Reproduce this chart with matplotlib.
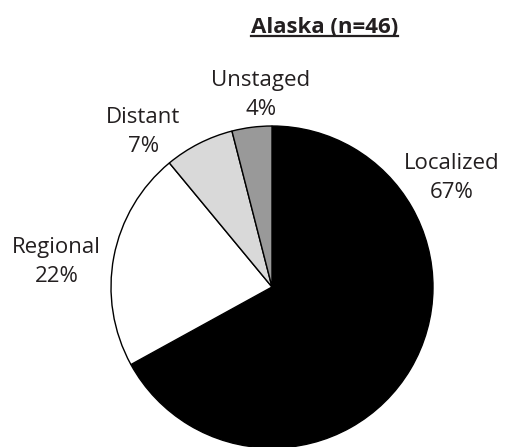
import matplotlib
matplotlib.use("Agg")
import matplotlib.pyplot as plt
from matplotlib.lines import Line2D

plt.rcParams['font.family'] = ['Open Sans', 'DejaVu Sans']

stages = ['Localized', 'Regional', 'Distant', 'Unstaged']
percents = [67, 22, 7, 4]
colors = ['#000000', '#ffffff', '#d9d9d9', '#999999']
# label anchor points, in pie-radius units
label_xy = [(1.118, 0.677), (-1.339, 0.155), (-0.798, 0.963), (-0.068, 1.193)]

W, H = 506, 447
cx, cy, r = 272, 287, 161

fig = plt.figure(figsize=(W / 100, H / 100), dpi=100)
ax = fig.add_axes([0, 0, 1, 1])
ax.axis('off')

ax.pie(percents, colors=colors, startangle=90, counterclock=False,
       radius=1.0, wedgeprops=dict(edgecolor='black', linewidth=1.0))
ax.set_xlim(-cx / r, (W - cx) / r)
ax.set_ylim(-(H - cy) / r, cy / r)
ax.set_aspect('equal')

for name, pct, (x, y) in zip(stages, percents, label_xy):
    ax.text(x, y, f"{name}\n{pct}%", ha='center', va='center',
            fontsize=16, color='#231f20', linespacing=1.45)

title_y = 1.578
title = ax.text(0.783, title_y, "Alaska (n=46)", ha='right', va='baseline',
                fontsize=16, fontweight='bold', color='#231f20')

# underline the title just below its baseline
fig.canvas.draw()
bb = title.get_window_extent()
base_px = ax.transData.transform((0, title_y))[1]
y_line = base_px - 3
fig.add_artist(Line2D([bb.x0 / W, bb.x1 / W], [y_line / H, y_line / H],
                      color='#231f20', linewidth=1.6))

fig.savefig("out.png", dpi=100)
